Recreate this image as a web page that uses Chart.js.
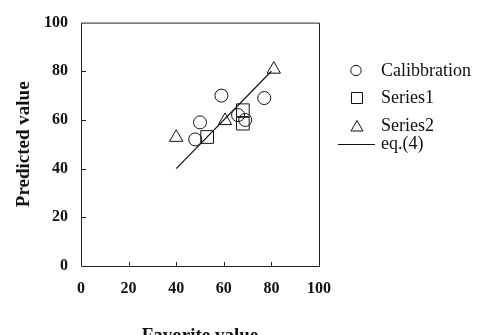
<!DOCTYPE html>
<html>
<head>
<meta charset="utf-8">
<script src="https://cdn.jsdelivr.net/npm/chart.js@4/dist/chart.umd.min.js"></script>
<style>
  html, body { margin: 0; padding: 0; background: #fff; }
  #wrap { width: 481px; height: 335px; position: relative; }
</style>
</head>
<body>
<div id="wrap"><canvas id="c"></canvas></div>
<script>
// ---- data ----
const calibX = [59, 50, 48, 66, 69, 77];
const calibY = [70, 59, 52, 62, 60, 69];
const series1X = [53, 68, 68];
const series1Y = [53, 64, 58.5];
const series2X = [40, 60.5, 81];
const series2Y = [52.8, 59.7, 80.8];
const eqX = [40, 80];
const eqY = [40, 80];
const tickValues = [0, 20, 40, 60, 80, 100];
const seriesNames = ['Calibbration', 'Series1', 'Series2', 'eq.(4)'];
const xTitle = 'Favorite value';
const yTitle = 'Predicted value';

const pts = (xs, ys) => xs.map((x, i) => ({ x: x, y: ys[i] }));
const SERIF = "'Liberation Serif', 'DejaVu Serif', serif";

const innerTicks = {
  id: 'innerTicks',
  afterDraw(chart) {
    const { ctx, chartArea: a, scales: { x, y } } = chart;
    ctx.save();
    ctx.strokeStyle = '#222';
    ctx.lineWidth = 1;
    ctx.beginPath();
    ctx.rect(a.left + 0.5, a.top + 0.5, a.right - a.left, a.bottom - a.top);
    ctx.stroke();
    ctx.beginPath();
    tickValues.slice(1, -1).forEach(v => {
      const px = Math.round(x.getPixelForValue(v)) + 0.5;
      ctx.moveTo(px, a.bottom);
      ctx.lineTo(px, a.bottom - 4);
      const py = Math.round(y.getPixelForValue(v)) + 0.5;
      ctx.moveTo(a.left, py);
      ctx.lineTo(a.left + 5, py);
    });
    ctx.stroke();
    ctx.restore();
  }
};

const customLegend = {
  id: 'customLegend',
  afterDraw(chart) {
    const ctx = chart.ctx;
    ctx.save();
    ctx.strokeStyle = '#111';
    ctx.fillStyle = '#111';
    ctx.lineWidth = 1;
    ctx.beginPath();
    ctx.arc(356, 70.5, 5.2, 0, Math.PI * 2);
    ctx.stroke();
    ctx.beginPath();
    ctx.rect(351.5, 92.5, 11, 11);
    ctx.stroke();
    ctx.beginPath();
    ctx.moveTo(357, 120.5);
    ctx.lineTo(363, 131);
    ctx.lineTo(351, 131);
    ctx.closePath();
    ctx.stroke();
    ctx.beginPath();
    ctx.moveTo(338, 144.5);
    ctx.lineTo(375, 144.5);
    ctx.stroke();
    ctx.font = "18px " + SERIF;
    ctx.textBaseline = 'middle';
    ctx.textAlign = 'left';
    const ys = [71, 98.5, 126.5, 144.5];
    seriesNames.forEach((n, i) => ctx.fillText(n, 381, ys[i]));
    ctx.restore();
  }
};

new Chart(document.getElementById('c'), {
  type: 'scatter',
  data: {
    datasets: [
      { label: seriesNames[0], data: pts(calibX, calibY), pointStyle: 'circle', pointRadius: 6.5,
        borderColor: '#111', backgroundColor: 'rgba(0,0,0,0)', borderWidth: 1 },
      { label: seriesNames[1], data: pts(series1X, series1Y), pointStyle: 'rect', pointRadius: 9,
        borderColor: '#111', backgroundColor: 'rgba(0,0,0,0)', borderWidth: 1 },
      { label: seriesNames[2], data: pts(series2X, series2Y), pointStyle: 'triangle', pointRadius: 7.7,
        borderColor: '#111', backgroundColor: 'rgba(0,0,0,0)', borderWidth: 1 },
      { label: seriesNames[3], type: 'line', data: pts(eqX, eqY), showLine: true, pointRadius: 0,
        borderColor: '#111', borderWidth: 1.2, fill: false }
    ]
  },
  options: {
    responsive: true,
    maintainAspectRatio: false,
    devicePixelRatio: 1,
    animation: false,
    layout: { padding: { top: 11, right: 162, left: 0, bottom: 0 } },
    plugins: { legend: { display: false }, tooltip: { enabled: false } },
    scales: {
      x: {
        type: 'linear', min: 0, max: 100,
        afterBuildTicks: s => { s.ticks = tickValues.map(v => ({ value: v })); },
        afterFit: s => { s.height = 69; },
        grid: { display: false, drawTicks: false },
        border: { display: false },
        ticks: { color: '#111', padding: 13, font: { family: SERIF, size: 16, weight: 'bold' } },
        title: { display: true, text: xTitle, color: '#111', padding: { top: 0, bottom: -12 },
                 font: { family: SERIF, size: 19, weight: 'bold' } }
      },
      y: {
        type: 'linear', min: 0, max: 100,
        afterBuildTicks: s => { s.ticks = tickValues.map(v => ({ value: v })); },
        afterFit: s => { s.width = 81; },
        grid: { display: false, drawTicks: false },
        border: { display: false },
        ticks: { color: '#111', padding: 13, font: { family: SERIF, size: 16, weight: 'bold' } },
        title: { display: true, text: yTitle, color: '#111', padding: { top: 12.6, bottom: 0 },
                 font: { family: SERIF, size: 19, weight: 'bold' } }
      }
    }
  },
  plugins: [innerTicks, customLegend]
});
</script>
</body>
</html>
